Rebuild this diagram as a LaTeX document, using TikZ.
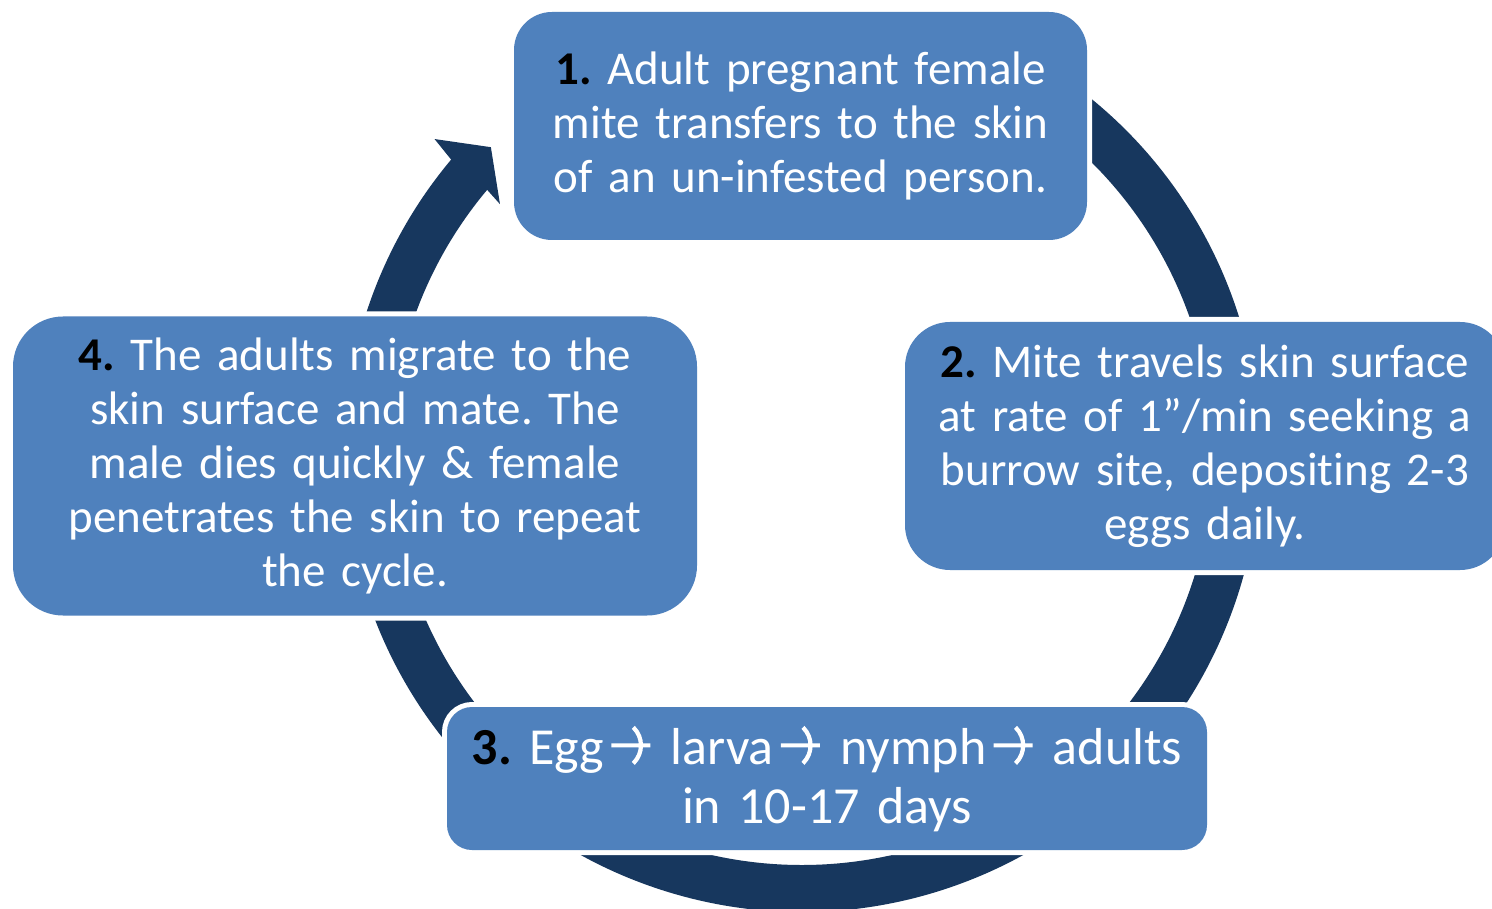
\documentclass[tikz,border=0pt]{standalone}
\usepackage{fontspec}
\setmainfont[Ligatures=NoCommon]{Carlito}
\usetikzlibrary{calc}
\definecolor{boxblue}{HTML}{4F81BD}
\definecolor{ringblue}{HTML}{17375E}
\newcommand{\numlbl}[1]{\textbf{\textcolor{black}{#1}}}
\newcommand{\arr}{\kern5pt\tikz[baseline=0pt,x=1pt,y=1pt]{\draw[white, line width=4.2pt, miter limit=10]
  (0,19) -- (39,19) (22,37) -- (40,19) -- (22,1);}}
\begin{document}
\frenchspacing
\begin{tikzpicture}[x=1pt,y=-1pt,
  stepbox/.style={fill=boxblue, rounded corners=#1, text=white, align=center,
    inner sep=0pt, preaction={draw=white, line width=10pt}},
  bodyfont/.style={font=\fontsize{47pt}{54pt}\selectfont\frenchspacing},
  bigfont/.style={font=\fontsize{52pt}{59pt}\selectfont\frenchspacing}]
\useasboundingbox (0,0) rectangle (1492,909);
\clip (0,0) rectangle (1492,909);
\fill[white] (0,0) rectangle (1492,909);
\coordinate (C) at (802,454);
% ring arrow
\fill[ringblue] ($(C)+(-70:458)$) arc[start angle=-70, end angle=220, radius=458]
  -- ($(C)+(220.6:484)$) -- ($(C)+(224.6:437)$) -- ($(C)+(219.6:392)$)
  -- ($(C)+(220:411)$) arc[start angle=220, end angle=-70, radius=411] -- cycle;
% boxes
\node[stepbox=38pt, bodyfont, minimum width=573pt, minimum height=228pt, text width=560pt]
  (b1) at (800.5,126) {\numlbl{1.} Adult pregnant female\\mite transfers to the skin\\of an un-infested person.};
\node[stepbox=45pt, bodyfont, minimum width=600pt, minimum height=248pt, text width=580pt]
  (b2) at (1205,446) {\numlbl{2.} Mite travels skin surface\\at rate of 1”/min seeking a\\burrow site, depositing 2-3\\eggs daily.};
\node[stepbox=25pt, bigfont, minimum width=760pt, minimum height=143pt, text width=755pt]
  (b3) at (827,778.5) {\numlbl{3.} Egg\arr{} larva\arr{} nymph\arr{} adults\\in 10-17 days};
\node[stepbox=50pt, bodyfont, minimum width=684pt, minimum height=299pt, text width=670pt]
  (b4) at (355,466) {\numlbl{4.} The adults migrate to the\\skin surface and mate. The\\male dies quickly \& female\\penetrates the skin to repeat\\the cycle.};
\end{tikzpicture}
\end{document}
